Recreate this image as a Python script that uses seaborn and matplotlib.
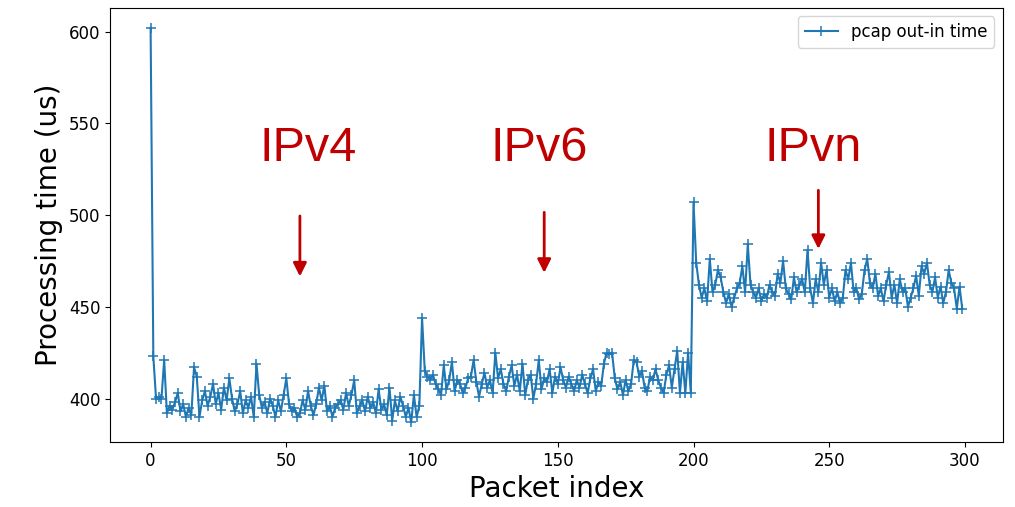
import numpy as np
import pandas as pd
import matplotlib
matplotlib.use("Agg")
import matplotlib.pyplot as plt
import seaborn as sns

# ---- data ----
ipv4_times = [
    602, 423, 400, 401, 400, 421, 392, 396, 394, 398,
    403, 393, 397, 390, 395, 391, 417, 412, 390, 399,
    404, 396, 401, 408, 397, 403, 394, 406, 399, 411,
    400, 393, 397, 404, 392, 399, 395, 401, 390, 419,
    402, 395, 398, 392, 400, 396, 390, 399, 393, 402,
    411, 397, 393, 395, 390, 392, 399, 394, 404, 396,
    391, 397, 406, 399, 407, 393, 396, 390, 395, 397,
    399, 394, 403, 396, 402, 410, 392, 396, 399, 393,
    401, 395, 398, 392, 405, 394, 397, 391, 406, 388,
    399, 393, 401, 396, 390, 395, 387, 402, 390, 396,
]
ipv6_times = [
    444, 415, 412, 410, 413, 408, 405, 402, 418, 405,
    410, 420, 404, 410, 408, 403, 406, 411, 412, 421,
    409, 401, 408, 414, 406, 410, 403, 425, 411, 416,
    408, 404, 412, 418, 407, 413, 404, 419, 402, 410,
    413, 400, 408, 421, 405, 411, 409, 416, 403, 412,
    408, 417, 410, 406, 412, 408, 404, 410, 406, 413,
    408, 403, 411, 416, 404, 409, 407, 419, 425, 424,
    425, 411, 405, 409, 402, 410, 404, 408, 421, 420,
    412, 415, 406, 404, 412, 410, 416, 410, 406, 403,
    413, 418, 406, 416, 426, 403, 420, 403, 425, 403,
]
ipvn_times = [
    507, 474, 462, 455, 460, 453, 476, 458, 462, 470,
    466, 458, 452, 457, 450, 455, 460, 463, 472, 458,
    484, 462, 458, 455, 460, 453, 457, 455, 462, 458,
    456, 468, 463, 475, 460, 457, 454, 466, 458, 462,
    465, 458, 481, 460, 452, 465, 458, 474, 462, 470,
    455, 460, 453, 458, 452, 455, 470, 465, 474, 458,
    460, 454, 457, 470, 476, 463, 460, 468, 456, 460,
    453, 462, 469, 455, 462, 452, 465, 458, 460, 450,
    455, 460, 467, 456, 472, 468, 474, 462, 458, 466,
    455, 461, 452, 458, 470, 463, 460, 449, 461, 449,
]
series_label = "pcap out-in time"
annot_labels = ["IPv4", "IPv6", "IPvn"]
annot_text_x = [58, 143, 244]
annot_text_y = [536, 536, 536]
arrow_x = [55, 145, 246]
arrow_top = [501, 503, 515]
arrow_bottom = [465, 467, 480]

times = ipv4_times + ipv6_times + ipvn_times
df = pd.DataFrame({"Packet index": np.arange(len(times)), "time": times})

fig = plt.figure(figsize=(10.15, 5.07), dpi=100)
ax = fig.add_axes([0.1084, 0.128, 0.8796, 0.856])

blue = "#1f77b4"
sns.lineplot(data=df, x="Packet index", y="time", ax=ax, color=blue,
             marker="+", markersize=7, markeredgewidth=1.1,
             markeredgecolor=blue, markerfacecolor=blue, linewidth=1.5,
             label=series_label)

for lab, tx, ty, axx, at, ab in zip(annot_labels, annot_text_x, annot_text_y,
                                     arrow_x, arrow_top, arrow_bottom):
    ax.text(tx, ty, lab, color="#c00000", fontsize=35,
            family="Liberation Sans", ha="center", va="center")
    ax.annotate("", xy=(axx, ab), xytext=(axx, at),
                arrowprops=dict(arrowstyle="-|>", color="#c00000", lw=2,
                                mutation_scale=20))

ax.set_xlabel("Packet index", fontsize=20)
ax.set_ylabel("Processing time (us)", fontsize=20)
ax.set_xticks([0, 50, 100, 150, 200, 250, 300])
ax.set_yticks([400, 450, 500, 550, 600])
ax.tick_params(labelsize=12)
ax.legend(loc="upper right", fontsize=12)

fig.savefig("out.png", dpi=100)
